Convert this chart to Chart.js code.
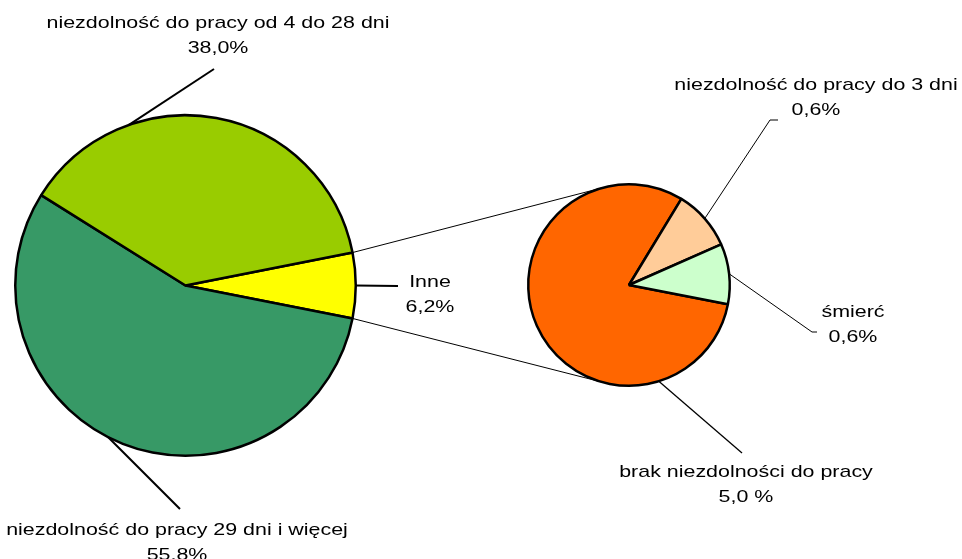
<!DOCTYPE html>
<html>
<head>
<meta charset="utf-8">
<script src="https://cdn.jsdelivr.net/npm/chart.js@4"></script>
<style>
  html, body { margin: 0; padding: 0; background: #fff; }
  #wrap { position: relative; width: 962px; height: 559px; }
  #wrap canvas { position: absolute; left: 0; top: 0; }
</style>
</head>
<body>
<div id="wrap">
  <canvas id="glowny" width="962" height="559"></canvas>
  <canvas id="inne" width="962" height="559"></canvas>
</div>
<script>
// wykres główny: skutki wypadków
const kategorieGlowne = ["Inne", "niezdolność do pracy 29 dni i więcej", "niezdolność do pracy od 4 do 28 dni"];
const wartosciGlowne = [6.2, 55.8, 38.0];
const opisyGlowne = ["6,2%", "55,8%", "38,0%"];

// rozbicie kategorii "Inne"
const kategorieInne = ["brak niezdolności do pracy", "niezdolność do pracy do 3 dni", "śmierć"];
const wartosciInne = [5.0, 0.6, 0.6];
const opisyInne = ["5,0 %", "0,6%", "0,6%"];

const FONT = '17px "Liberation Sans", Arial, sans-serif';
const SKALA_X = 1.26;
const LINIA = 24.5;

// rozmieszczenie etykiet (środek tekstu, linia bazowa) i punkt startu linii odniesienia
const ukladGlowny = [
  { x: 430, y: 287, kat: null, koniec: [[398, 286]], gr: 2 },
  { x: 177, y: 535, kat: 117, koniec: [[180, 509]], gr: 2 },
  { x: 218, y: 28, kat: -109.4, koniec: [[214, 69]], gr: 2 },
];
const ukladInne = [
  { x: 746, y: 477, kat: 72.8, koniec: [[742, 453]], gr: 1.3 },
  { x: 816, y: 90, kat: null, koniec: [[770, 120], [778, 120]], gr: 1 },
  { x: 853, y: 317, kat: null, koniec: [[812, 332], [817, 332]], gr: 1 },
];

function suma(a) { return a.reduce((s, v) => s + v, 0); }

function napis(ctx, linie, x, y) {
  ctx.save();
  ctx.font = FONT;
  ctx.fillStyle = "#000";
  ctx.textAlign = "center";
  ctx.textBaseline = "alphabetic";
  linie.forEach((t, i) => {
    ctx.save();
    ctx.translate(x, y + i * LINIA);
    ctx.scale(SKALA_X, 1);
    ctx.fillText(t, 0, 0);
    ctx.restore();
  });
  ctx.restore();
}

function punktNaLuku(arc, katDeg) {
  const a = katDeg === null ? (arc.startAngle + arc.endAngle) / 2 : katDeg * Math.PI / 180;
  return [arc.x + Math.cos(a) * arc.outerRadius, arc.y + Math.sin(a) * arc.outerRadius];
}

function odniesienia(ctx, meta, uklad, kategorie, opisy) {
  meta.data.forEach((arc, i) => {
    const u = uklad[i];
    const p = punktNaLuku(arc, u.kat);
    ctx.save();
    ctx.strokeStyle = "#000";
    ctx.lineWidth = u.gr;
    ctx.beginPath();
    ctx.moveTo(p[0], p[1]);
    u.koniec.forEach(k => ctx.lineTo(k[0], k[1]));
    ctx.stroke();
    ctx.restore();
    napis(ctx, [kategorie[i], opisy[i]], u.x, u.y);
  });
}

function styczna(px, py, cx, cy, r, znak) {
  const dx = px - cx, dy = py - cy;
  const d = Math.hypot(dx, dy);
  const a = Math.atan2(dy, dx) + znak * Math.acos(r / d);
  return [cx + r * Math.cos(a), cy + r * Math.sin(a)];
}

const wspolne = {
  responsive: false,
  animation: false,
  events: [],
  plugins: { legend: { display: false }, tooltip: { enabled: false } },
};

const wykresGlowny = new Chart(document.getElementById("glowny"), {
  type: "pie",
  data: {
    labels: kategorieGlowne,
    datasets: [{
      data: wartosciGlowne,
      backgroundColor: ["#FFFF00", "#379966", "#99CC00"],
      borderColor: "#000",
      borderWidth: 2.5,
    }],
  },
  options: {
    ...wspolne,
    rotation: 90 - (wartosciGlowne[0] / suma(wartosciGlowne)) * 180,
    layout: { padding: { left: 14, right: 605, top: 114, bottom: 102 } },
  },
});

const rysujOpisy = {
  id: "rysujOpisy",
  afterDraw(chart) {
    const ctx = chart.ctx;
    const m1 = wykresGlowny.getDatasetMeta(0);
    const m2 = chart.getDatasetMeta(0);
    const inne = m1.data[0];
    const maly = m2.data[0];

    // linie łączące wycinek "Inne" z drugim wykresem
    const gora = [inne.x + Math.cos(inne.startAngle) * inne.outerRadius, inne.y + Math.sin(inne.startAngle) * inne.outerRadius];
    const dol = [inne.x + Math.cos(inne.endAngle) * inne.outerRadius, inne.y + Math.sin(inne.endAngle) * inne.outerRadius];
    const tg = styczna(gora[0], gora[1], maly.x, maly.y, maly.outerRadius, 1);
    const td = styczna(dol[0], dol[1], maly.x, maly.y, maly.outerRadius, -1);
    ctx.save();
    ctx.strokeStyle = "#000";
    ctx.lineWidth = 1;
    ctx.beginPath();
    ctx.moveTo(gora[0], gora[1]);
    ctx.lineTo(tg[0], tg[1]);
    ctx.moveTo(dol[0], dol[1]);
    ctx.lineTo(td[0], td[1]);
    ctx.stroke();
    ctx.restore();

    odniesienia(ctx, m1, ukladGlowny, kategorieGlowne, opisyGlowne);
    odniesienia(ctx, m2, ukladInne, kategorieInne, opisyInne);
  },
};

new Chart(document.getElementById("inne"), {
  type: "pie",
  data: {
    labels: kategorieInne,
    datasets: [{
      data: wartosciInne,
      backgroundColor: ["#FF6600", "#FFCC99", "#CCFFCC"],
      borderColor: "#000",
      borderWidth: 2.5,
    }],
  },
  options: {
    ...wspolne,
    rotation: 101,
    layout: { padding: { left: 527, right: 231, top: 183, bottom: 172 } },
  },
  plugins: [rysujOpisy],
});
</script>
</body>
</html>
